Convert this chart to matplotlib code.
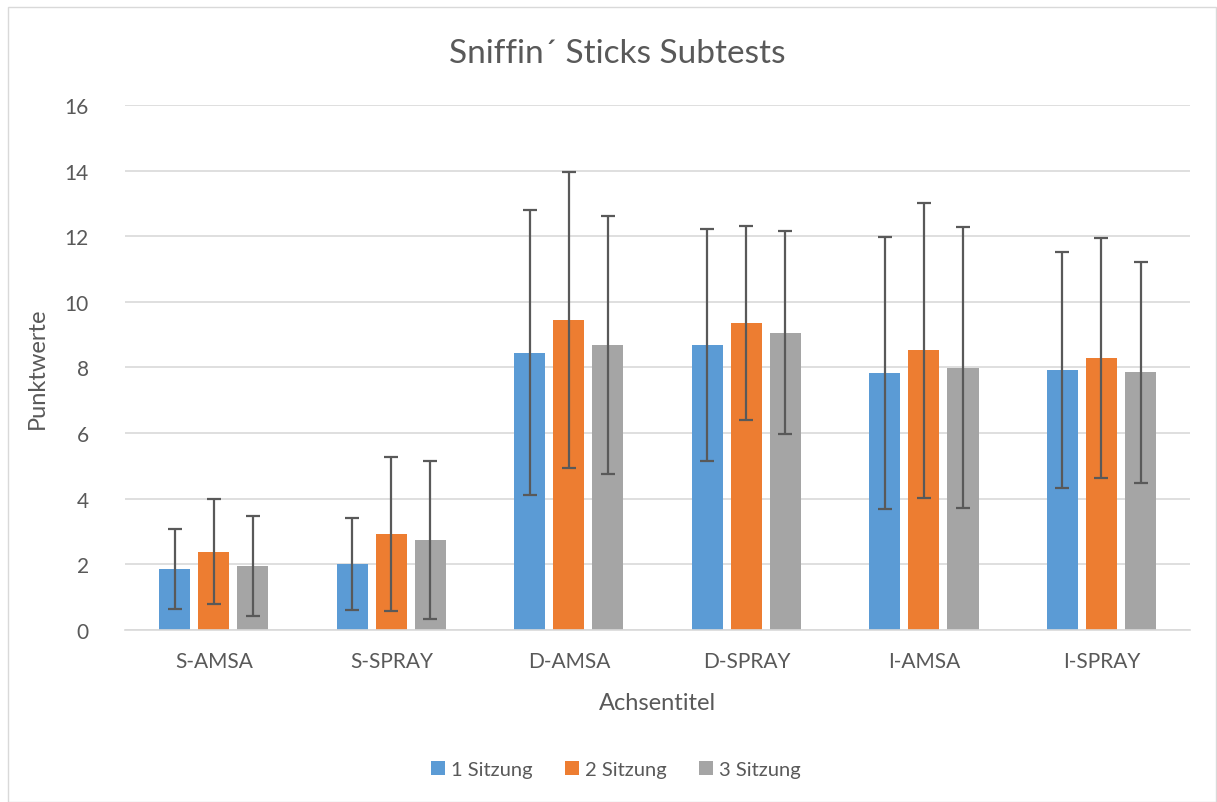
import numpy as np
import matplotlib
matplotlib.use("Agg")
import matplotlib.pyplot as plt
from matplotlib.patches import Rectangle

CATEGORIES = ["S-AMSA", "S-SPRAY", "D-AMSA", "D-SPRAY", "I-AMSA", "I-SPRAY"]
SERIES = ["1 Sitzung", "2 Sitzung", "3 Sitzung"]
COLORS = ["#5b9bd5", "#ed7d31", "#a5a5a5"]

# mean values per session
S1 = [1.85, 2.01, 8.45, 8.69, 7.84, 7.92]
S2 = [2.39, 2.92, 9.45, 9.35, 8.52, 8.29]
S3 = [1.95, 2.74, 8.69, 9.06, 7.99, 7.85]
# standard deviations (error bars)
S1_ERR = [1.22, 1.40, 4.35, 3.53, 4.14, 3.59]
S2_ERR = [1.61, 2.35, 4.51, 2.95, 4.50, 3.65]
S3_ERR = [1.53, 2.40, 3.93, 3.10, 4.28, 3.37]

TEXT = "#595959"
plt.rcParams["font.family"] = ["Lato", "DejaVu Sans"]

fig = plt.figure(figsize=(12.17, 8.03), dpi=100)
fig.patches.append(Rectangle((8 / 1217, 0), 1 - 9 / 1217, 1 - 8 / 803, transform=fig.transFigure,
                             fill=False, edgecolor="#d9d9d9", linewidth=1))
ax = fig.add_axes([0.1027, 0.2142, 0.8753, 0.6538])

x = np.arange(len(CATEGORIES))
width = 0.175
step = 0.22
for i, (vals, errs) in enumerate(zip([S1, S2, S3], [S1_ERR, S2_ERR, S3_ERR])):
    ax.bar(x + (i - 1) * step, vals, width, color=COLORS[i], label=SERIES[i], zorder=2)
    ax.errorbar(x + (i - 1) * step, vals, yerr=errs, fmt="none", ecolor="#595959",
                elinewidth=1.6, capsize=5, capthick=1.6, zorder=3)

ax.set_xlim(-0.5, len(CATEGORIES) - 0.5)
ax.set_ylim(0, 16)
ax.set_yticks(range(0, 17, 2))
ax.set_xticks(x)
ax.set_xticklabels(CATEGORIES)
ax.tick_params(axis="both", length=0, labelsize=15, colors=TEXT)
ax.tick_params(axis="x", pad=15)
ax.tick_params(axis="y", pad=26)
ax.grid(True, axis="y", color="#d9d9d9", linewidth=1.2, zorder=0)
ax.set_axisbelow(True)
for s in ["top", "right", "left"]:
    ax.spines[s].set_visible(False)
ax.spines["bottom"].set_color("#d9d9d9")
ax.spines["bottom"].set_linewidth(1.2)

ax.set_ylabel("Punktwerte", fontsize=17, color=TEXT, labelpad=12)
ax.set_xlabel("Achsentitel", fontsize=17, color=TEXT, labelpad=15)
fig.text(0.507, 0.933, "Sniffin\u00b4 Sticks Subtests", ha="center", va="center",
         fontsize=24, color=TEXT)

leg = fig.legend(loc="center", bbox_to_anchor=(0.506, 0.04), ncol=3, frameon=False,
                 fontsize=14.5, handlelength=0.7, handleheight=0.7, handletextpad=0.3,
                 columnspacing=1.6)
for t in leg.get_texts():
    t.set_color(TEXT)

fig.savefig("out.png", dpi=100)
